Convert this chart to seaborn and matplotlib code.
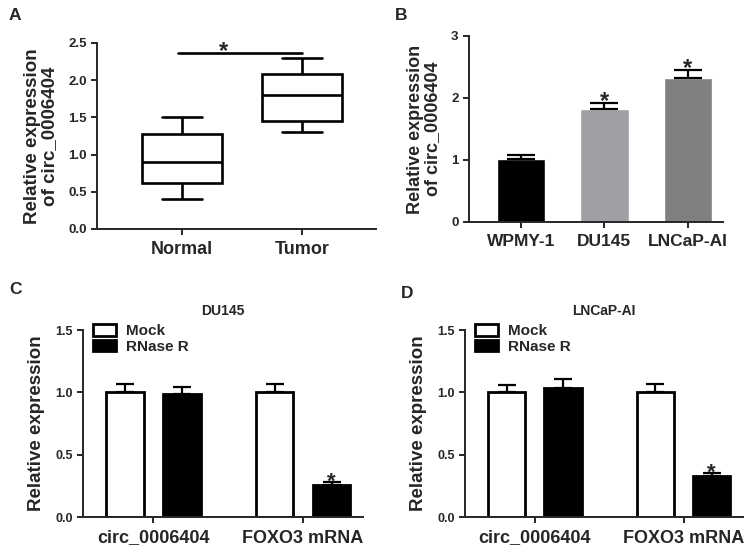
"""
circ_0006404 expression figure (panels A-D), rebuilt with seaborn.
"""
import pandas as pd
import matplotlib
matplotlib.use("Agg")
import matplotlib.pyplot as plt
import seaborn as sns

# ---- data ----
# A: box summary per group (min, Q1, median, Q3, max)
a_groups = ["Normal", "Tumor"]
a_normal = [0.40, 0.62, 0.90, 1.28, 1.50]
a_tumor = [1.30, 1.45, 1.80, 2.08, 2.30]

# B: cell line expression, mean and SEM
b_cells = ["WPMY-1", "DU145", "LNCaP-AI"]
b_mean = [1.02, 1.82, 2.32]
b_err = [0.06, 0.10, 0.13]
b_colors = ["#000000", "#a0a0a4", "#808080"]

# C / D: RNase R treatment
cd_targets = ["circ_0006404", "FOXO3 mRNA"]
cd_treat = ["Mock", "RNase R"]
du_mock = [1.00, 1.00]
du_mock_err = [0.07, 0.065]
du_rnase = [0.985, 0.26]
du_rnase_err = [0.055, 0.018]
ln_mock = [1.00, 1.00]
ln_mock_err = [0.06, 0.065]
ln_rnase = [1.035, 0.33]
ln_rnase_err = [0.07, 0.02]

# ---- style ----
sns.set_style("ticks")
plt.rcParams["font.family"] = ["Liberation Sans", "DejaVu Sans"]
plt.rcParams["font.weight"] = "bold"
plt.rcParams["axes.labelweight"] = "bold"
plt.rcParams["axes.titleweight"] = "bold"
plt.rcParams["axes.linewidth"] = 1.4
plt.rcParams["xtick.major.width"] = 1.4
plt.rcParams["ytick.major.width"] = 1.4
plt.rcParams["xtick.major.size"] = 4
plt.rcParams["ytick.major.size"] = 4

fig = plt.figure(figsize=(7.53, 5.47), dpi=100)
ax_a = fig.add_axes([0.1288, 0.5814, 0.3705, 0.3400])
ax_b = fig.add_axes([0.6228, 0.5942, 0.3374, 0.3400])
ax_c = fig.add_axes([0.1102, 0.0548, 0.3719, 0.3419])
ax_d = fig.add_axes([0.6175, 0.0548, 0.3692, 0.3419])


def star(ax, x, y, size=17):
    # asterisk sitting just above the point (x, y)
    ax.annotate("*", (x, y), xytext=(0, -3.5), textcoords="offset points",
                ha="center", va="baseline", fontsize=size, fontweight="bold",
                annotation_clip=False)


def clean(ax):
    sns.despine(ax=ax)
    ax.set_xlabel("")
    ax.tick_params(axis="x", pad=5)


# ---- A: box plot ----
df_a = pd.DataFrame({
    "group": [a_groups[0]] * len(a_normal) + [a_groups[1]] * len(a_tumor),
    "value": a_normal + a_tumor,
})
sns.boxplot(data=df_a, x="group", y="value", order=a_groups, whis=(0, 100),
            width=0.67, color="white", linecolor="black", linewidth=1.9,
            ax=ax_a)
ax_a.set_xlim(-0.71, 1.62)
ax_a.set_ylim(0, 2.5)
ax_a.set_yticks([0, 0.5, 1.0, 1.5, 2.0, 2.5])
ax_a.set_yticklabels([f"{v:.1f}" for v in ax_a.get_yticks()], fontsize=9.5)
ax_a.tick_params(axis="x", labelsize=13)
ax_a.set_ylabel("Relative expression\nof circ_0006404", fontsize=13.5,
                labelpad=7, linespacing=1.0)
clean(ax_a)
ax_a.plot([-0.03, 1.0], [2.37, 2.37], color="black", lw=1.9, clip_on=False)
star(ax_a, 0.35, 2.37, size=17)

# ---- B: bar plot ----
sns.barplot(x=b_cells, y=b_mean, hue=b_cells, palette=b_colors, width=0.58,
            legend=False, ax=ax_b)
for bar, e in zip(list(ax_b.patches), b_err):
    cx = bar.get_x() + bar.get_width() / 2
    h = bar.get_height()
    ax_b.errorbar(cx, h, yerr=[[0], [e]], fmt="none", ecolor="black",
                  elinewidth=1.6, capsize=10, capthick=1.6, zorder=3,
                  clip_on=False)
    if cx > 0.5:
        star(ax_b, cx, h + e)
ax_b.set_xlim(-0.62, 2.42)
ax_b.set_ylim(0, 3)
ax_b.set_yticks([0, 1, 2, 3])
ax_b.tick_params(axis="y", labelsize=9.5)
ax_b.tick_params(axis="x", labelsize=12.5)
ax_b.set_ylabel("Relative expression\nof circ_0006404", fontsize=13,
                labelpad=7, linespacing=1.0)
clean(ax_b)


# ---- C / D: grouped bars ----
def rnase_panel(ax, title, mock, mock_err, rnase, rnase_err):
    df = pd.DataFrame({
        "target": cd_targets * 2,
        "treat": [cd_treat[0]] * 2 + [cd_treat[1]] * 2,
        "value": mock + rnase,
    })
    sns.barplot(data=df, x="target", y="value", hue="treat",
                hue_order=cd_treat, order=cd_targets,
                palette=["white", "black"], width=0.76, gap=0.34,
                edgecolor="black", linewidth=2.0, legend=False, ax=ax)
    bar_sets = list(ax.containers)
    errs = [mock_err, rnase_err]
    for ci, cont in enumerate(bar_sets):
        for j, bar in enumerate(cont):
            cx = bar.get_x() + bar.get_width() / 2
            h = bar.get_height()
            e = errs[ci][j]
            ax.errorbar(cx, h, yerr=[[0], [e]], fmt="none", ecolor="black",
                        elinewidth=1.6, capsize=6.5, capthick=1.6, zorder=3)
            if ci == 1 and j == 1:
                star(ax, cx, h + e, size=16)
    ax.legend(bar_sets, cd_treat, loc="upper left",
              bbox_to_anchor=(0.035, 1.03), frameon=False, fontsize=11,
              handlelength=1.5, handleheight=0.75, handletextpad=0.7,
              labelspacing=0.1, borderpad=0, borderaxespad=0)
    ax.set_xlim(-0.47, 1.40)
    ax.set_ylim(0, 1.5)
    ax.set_yticks([0, 0.5, 1.0, 1.5])
    ax.set_yticklabels([f"{v:.1f}" for v in ax.get_yticks()], fontsize=9)
    ax.tick_params(axis="x", labelsize=13)
    ax.set_ylabel("Relative expression", fontsize=13.5, labelpad=7)
    ax.set_title(title, fontsize=10, pad=11)
    clean(ax)


rnase_panel(ax_c, "DU145", du_mock, du_mock_err, du_rnase, du_rnase_err)
rnase_panel(ax_d, "LNCaP-AI", ln_mock, ln_mock_err, ln_rnase, ln_rnase_err)

# ---- panel letters ----
for letter, x, y in [("A", 0.012, 0.985), ("B", 0.524, 0.985),
                     ("C", 0.012, 0.485), ("D", 0.533, 0.478)]:
    fig.text(x, y, letter, fontsize=12.5, fontweight="bold", va="top")

fig.savefig("out.png", dpi=100)
